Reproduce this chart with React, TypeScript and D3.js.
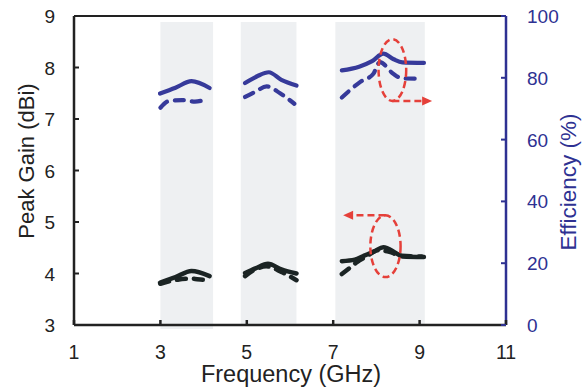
import React from "react";
import * as d3 from "d3";

const W = 584, H = 387;
const M = { left: 74, right: 506, top: 16, bottom: 325 };

const xTicks = [1, 3, 5, 7, 9, 11];
const gainTicks = [3, 4, 5, 6, 7, 8, 9];
const effTicks = [0, 20, 40, 60, 80, 100];

const bands: [number, number][] = [[3.0, 4.22], [4.86, 6.15], [7.05, 9.12]];

// Efficiency (%) - blue, right axis
const effSolid1F = [2.99, 3.35, 3.72, 4.14];
const effSolid1V = [74.9, 76.8, 78.9, 76.7];
const effDash1F = [3.0, 3.2, 3.5, 3.8, 3.98];
const effDash1V = [70.3, 72.5, 72.8, 72.3, 72.7];
const effSolid2F = [4.96, 5.24, 5.51, 5.8, 6.15];
const effSolid2V = [78.3, 80.5, 81.8, 79.3, 77.5];
const effDash2F = [4.96, 5.2, 5.46, 5.77, 6.1];
const effDash2V = [73.8, 75.5, 77.2, 75.0, 71.6];
const effSolid3F = [7.2, 7.6, 7.9, 8.16, 8.4, 8.6, 9.1];
const effSolid3V = [82.4, 83.6, 85.4, 87.8, 86.0, 85.0, 84.8];
const effDash3F = [7.2, 7.62, 7.93, 8.08, 8.39, 8.6, 9.05];
const effDash3V = [73.6, 78.6, 81.3, 85.1, 81.3, 79.8, 79.7];

// Peak gain (dBi) - black, left axis
const gainSolid1F = [2.99, 3.35, 3.72, 4.14];
const gainSolid1V = [3.82, 3.93, 4.05, 3.95];
const gainDash1F = [3.0, 3.4, 3.7, 4.0, 4.15];
const gainDash1V = [3.8, 3.88, 3.9, 3.88, 3.9];
const gainSolid2F = [4.96, 5.2, 5.49, 5.8, 6.15];
const gainSolid2V = [4.01, 4.1, 4.19, 4.08, 4.0];
const gainDash2F = [4.96, 5.2, 5.45, 5.8, 6.15];
const gainDash2V = [3.95, 4.08, 4.14, 4.03, 3.87];
const gainSolid3F = [7.2, 7.5, 7.7, 7.95, 8.16, 8.45, 8.6, 9.1];
const gainSolid3V = [4.24, 4.27, 4.34, 4.43, 4.51, 4.4, 4.33, 4.32];
const gainDash3F = [7.2, 7.4, 7.55, 7.75, 8.05, 8.3, 8.55, 9.05];
const gainDash3V = [3.99, 4.12, 4.22, 4.32, 4.45, 4.42, 4.35, 4.33];

const BLUE = "#363a9a";
const AXBLUE = "#2e3192";
const BLACK = "#1b2424";
const BAND = "#eef0f2";
const RED = "#e5403a";
const FONT = "'Liberation Sans', Arial, Helvetica, sans-serif";

export default function App() {
  const x = d3.scaleLinear().domain([1, 11]).range([M.left, M.right]);
  const yG = d3.scaleLinear().domain([3, 9]).range([M.bottom, M.top]);
  const yE = d3.scaleLinear().domain([0, 100]).range([M.bottom, M.top]);

  const mk = (fs: number[], vs: number[], y: d3.ScaleLinear<number, number>) =>
    d3.line<number>().x((_, i) => x(fs[i])).y((v) => y(v)).curve(d3.curveMonotoneX)(vs) || "";

  const effLines = [
    { f: effSolid1F, v: effSolid1V, dash: false },
    { f: effDash1F, v: effDash1V, dash: true },
    { f: effSolid2F, v: effSolid2V, dash: false },
    { f: effDash2F, v: effDash2V, dash: true },
    { f: effSolid3F, v: effSolid3V, dash: false },
    { f: effDash3F, v: effDash3V, dash: true },
  ];
  const gainLines = [
    { f: gainSolid1F, v: gainSolid1V, dash: false },
    { f: gainDash1F, v: gainDash1V, dash: true },
    { f: gainSolid2F, v: gainSolid2V, dash: false },
    { f: gainDash2F, v: gainDash2V, dash: true },
    { f: gainSolid3F, v: gainSolid3V, dash: false },
    { f: gainDash3F, v: gainDash3V, dash: true },
  ];

  // annotations
  const e1cx = x(8.37), e1cy = yE(82.5), e1rx = x(8.37 + 0.32) - x(8.37), e1ry = yE(0) - yE(10);
  const a1y = e1cy + e1ry, a1x0 = e1cx, a1x1 = x(9.29);
  const e2cx = x(8.21), e2cy = yG(4.53), e2rx = x(8.21 + 0.35) - x(8.21), e2ry = yG(3) - yG(3.6);
  const a2y = e2cy - e2ry, a2x0 = e2cx, a2x1 = x(7.23);

  return (
    <svg width={W} height={H} style={{ position: "absolute", left: 0, top: 0, background: "#fff" }} fontFamily={FONT}>
      {bands.map((b, i) => (
        <rect key={i} x={x(b[0])} y={22} width={x(b[1]) - x(b[0])} height={M.bottom - 22 + (i === 0 ? 4 : 0)} fill={BAND} />
      ))}
      {/* axes frame */}
      <line x1={M.left} x2={M.right} y1={M.top} y2={M.top} stroke="#222" strokeWidth={2} />
      <line x1={M.left} x2={M.right} y1={M.bottom} y2={M.bottom} stroke="#222" strokeWidth={2.5} />
      <line x1={M.left} x2={M.left} y1={M.top} y2={M.bottom} stroke="#222" strokeWidth={2.5} />
      <line x1={M.right} x2={M.right} y1={M.top} y2={M.bottom} stroke={AXBLUE} strokeWidth={2.5} />
      {xTicks.map((t) => (
        <g key={t}>
          <line x1={x(t)} x2={x(t)} y1={M.bottom} y2={M.bottom - 5} stroke="#222" strokeWidth={2.5} />
          <text x={x(t)} y={359} textAnchor="middle" fontSize={19.5} fill="#222">{t}</text>
        </g>
      ))}
      {gainTicks.map((t) => (
        <g key={t}>
          <line x1={M.left} x2={M.left + 5} y1={yG(t)} y2={yG(t)} stroke="#222" strokeWidth={2} />
          <text x={55} y={yG(t) + 7} textAnchor="end" fontSize={19} fill="#222">{t}</text>
        </g>
      ))}
      {effTicks.map((t) => (
        <g key={t}>
          <line x1={M.right} x2={M.right - 5} y1={yE(t)} y2={yE(t)} stroke={AXBLUE} strokeWidth={2} />
          <text x={527} y={yE(t) + 7} textAnchor="start" fontSize={19} fill={AXBLUE}>{t}</text>
        </g>
      ))}
      <text transform={`translate(34,161) rotate(-90)`} textAnchor="middle" fontSize={22} fill="#222">Peak Gain (dBi)</text>
      <text transform={`translate(576,182) rotate(-90)`} textAnchor="middle" fontSize={22.5} fill={AXBLUE}>Efficiency (%)</text>
      <text x={291} y={382} textAnchor="middle" fontSize={23.5} fill="#222">Frequency (GHz)</text>

      {effLines.map((l, i) => (
        <path key={"e" + i} d={mk(l.f, l.v, yE)} fill="none" stroke={BLUE} strokeWidth={4.2} strokeLinecap="round" strokeLinejoin="round" strokeDasharray={l.dash ? "9 8" : undefined} />
      ))}
      {gainLines.map((l, i) => (
        <path key={"g" + i} d={mk(l.f, l.v, yG)} fill="none" stroke={BLACK} strokeWidth={4.5} strokeLinecap="round" strokeLinejoin="round" strokeDasharray={l.dash ? "9 8" : undefined} />
      ))}

      {/* annotations */}
      <ellipse cx={e1cx} cy={e1cy} rx={e1rx} ry={e1ry} fill="none" stroke={RED} strokeWidth={2.5} strokeDasharray="7 4" />
      <line x1={a1x0} x2={a1x1 - 9} y1={a1y} y2={a1y} stroke={RED} strokeWidth={2.5} strokeDasharray="7 4" />
      <path d={`M${a1x1},${a1y} L${a1x1 - 10},${a1y - 4.5} L${a1x1 - 10},${a1y + 4.5} Z`} fill={RED} />
      <ellipse cx={e2cx} cy={e2cy} rx={e2rx} ry={e2ry} fill="none" stroke={RED} strokeWidth={2.5} strokeDasharray="7 4" />
      <line x1={a2x0} x2={a2x1 + 9} y1={a2y} y2={a2y} stroke={RED} strokeWidth={2.5} strokeDasharray="7 4" />
      <path d={`M${a2x1},${a2y} L${a2x1 + 10},${a2y - 4.5} L${a2x1 + 10},${a2y + 4.5} Z`} fill={RED} />
    </svg>
  );
}
